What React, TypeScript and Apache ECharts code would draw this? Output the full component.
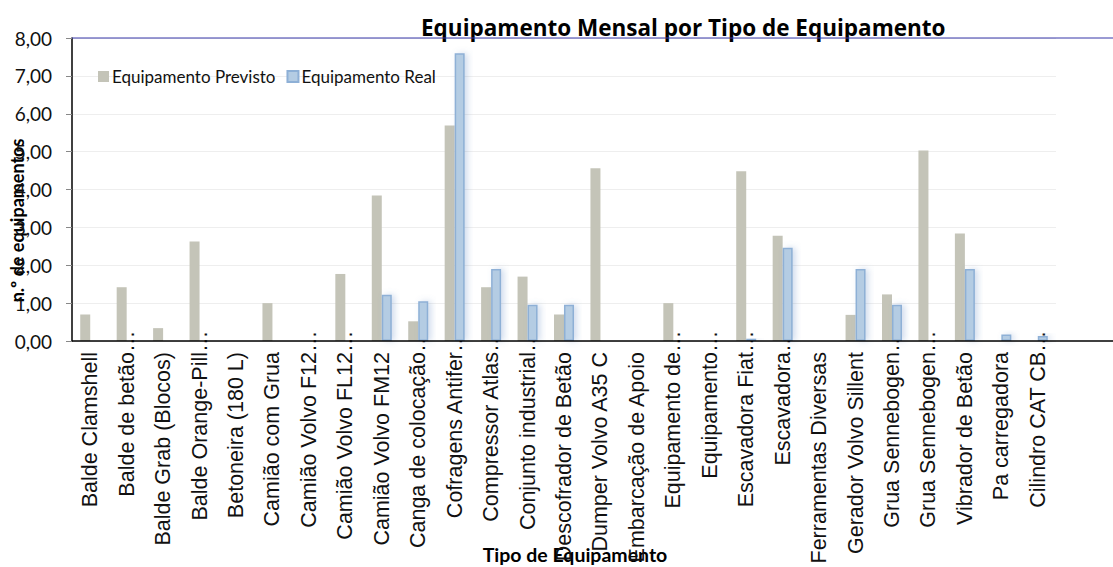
import React, { useEffect, useRef } from "react";
import * as echarts from "echarts";

const categories = [
  "Balde Clamshell",
  "Balde de betão…",
  "Balde Grab (Blocos)",
  "Balde Orange-Pill…",
  "Betoneira (180 L)",
  "Camião com Grua",
  "Camião Volvo F12…",
  "Camião Volvo FL12…",
  "Camião Volvo FM12",
  "Canga de colocação…",
  "Cofragens Antifer…",
  "Compressor Atlas…",
  "Conjunto industrial…",
  "Descofrador de Betão",
  "Dumper Volvo A35 C",
  "Embarcação de Apoio",
  "Equipamento de…",
  "Equipamento…",
  "Escavadora Fiat…",
  "Escavadora…",
  "Ferramentas Diversas",
  "Gerador Volvo Sillent",
  "Grua Sennebogen…",
  "Grua Sennebogen…",
  "Vibrador de Betão",
  "Pa carregadora",
  "Cilindro CAT CB…",
];

const previsto = [0.7, 1.42, 0.34, 2.63, 0, 1.0, 0, 1.77, 3.84, 0.52, 5.69, 1.42, 1.7, 0.7, 4.56, 0, 1.0, 0, 4.48, 2.78, 0, 0.69, 1.23, 5.03, 2.84, 0, 0];
const real = [0, 0, 0, 0, 0, 0, 0, 0, 1.22, 1.05, 7.6, 1.9, 0.96, 0.96, 0, 0, 0, 0, 0.06, 2.46, 0, 1.9, 0.96, 0, 1.9, 0.17, 0.13];

const seriesNames = ["Equipamento Previsto", "Equipamento Real"];
const titleText = "Equipamento Mensal por Tipo de Equipamento";
const xName = "Tipo de Equipamento";
const yName = "n.º de equipamentos";

const CAL = "Lato";
const XFS = 21.5;

export default function App() {
  const ref = useRef<HTMLDivElement>(null);
  useEffect(() => {
    if (!ref.current) return;
    const chart = echarts.init(ref.current, null, { renderer: "svg" });
    const option: any = {
      animation: false,
      backgroundColor: "#ffffff",
      title: {
        text: titleText,
        left: 421,
        top: 16,
        padding: 0,
        textStyle: { fontFamily: "Open Sans", fontWeight: "bold", fontSize: 22.5, color: "#000" },
      },
      legend: {
        left: 98,
        top: 68,
        padding: 0,
        itemWidth: 11,
        itemHeight: 11,
        itemGap: 11,
        icon: "rect",
        textStyle: { fontFamily: CAL, fontSize: 17, color: "#111", padding: [0, 0, 0, -2] },
        data: seriesNames,
      },
      grid: { left: 72, top: 38, right: 57, bottom: 226, containLabel: false, outerBoundsMode: "none" },
      xAxis: {
        type: "category",
        data: categories,
        name: xName,
        nameLocation: "middle",
        nameGap: 203,
        nameMoveOverlap: false,
        nameTextStyle: { fontFamily: CAL, fontWeight: "bold", fontSize: 19.5, color: "#000", padding: [0, 0, 0, 22] },
        axisLine: { show: false },
        axisTick: { show: false },
        axisLabel: {
          interval: 0,
          rotate: 90,
          margin: 11,
          fontFamily: "Liberation Sans",
          fontSize: XFS,
          color: "#111",
          hideOverlap: false,
          formatter: (v: string) => (v.endsWith("…") ? v.slice(0, -1) + "{e|…}" : v),
          rich: {
            e: { padding: [0, -XFS, 0, 0], fontFamily: "Liberation Sans", fontSize: XFS, color: "#111" },
          },
        },
      },
      yAxis: {
        type: "value",
        min: 0,
        max: 8,
        interval: 1,
        name: yName,
        nameLocation: "middle",
        nameGap: 46,
        nameMoveOverlap: false,
        nameTextStyle: { fontFamily: CAL, fontWeight: "bold", fontSize: 18, color: "#000", padding: [0, 62, 0, 0] },
        axisLine: { show: true, lineStyle: { color: "#000", width: 1.5 } },
        axisTick: { show: true, length: 6, lineStyle: { color: "#888" } },
        axisLabel: {
          margin: 20,
          fontFamily: CAL,
          fontSize: 19,
          color: "#111",
          formatter: (v: number) => v.toFixed(2).replace(".", ","),
        },
        splitLine: { show: true, lineStyle: { color: "#eeeeee", width: 1 } },
      },
      series: [
        {
          name: seriesNames[0],
          type: "bar",
          data: previsto,
          barWidth: 10,
          barGap: "0%",
          itemStyle: { color: "#c4c4b8" },
        },
        {
          name: seriesNames[1],
          type: "bar",
          data: real,
          barWidth: 10,
          barGap: "0%",
          itemStyle: {
            color: "#b4cce3",
            borderColor: "#8eb0d6",
            borderWidth: 1.5,
            shadowColor: "rgba(100,140,195,0.3)",
            shadowBlur: 6,
            shadowOffsetX: 3,
          },
        },
      ],
    };
    chart.setOption(option);
    const y0 = chart.convertToPixel({ yAxisIndex: 0 }, 0) as number;
    const yTop = chart.convertToPixel({ yAxisIndex: 0 }, 8) as number;
    chart.setOption({
      graphic: [
        {
          type: "line",
          shape: { x1: 72, y1: yTop, x2: 1113, y2: yTop },
          style: { stroke: "#3636a8", lineWidth: 1 },
          z: 10,
        },
        {
          type: "line",
          shape: { x1: 72, y1: y0, x2: 1113, y2: y0 },
          style: { stroke: "#000", lineWidth: 1.5 },
          z: 10,
        },
      ],
    });
    return () => chart.dispose();
  }, []);
  return (
    <div
      ref={ref}
      style={{ position: "fixed", left: 0, top: 0, width: 1113, height: 567, background: "#fff" }}
    />
  );
}
